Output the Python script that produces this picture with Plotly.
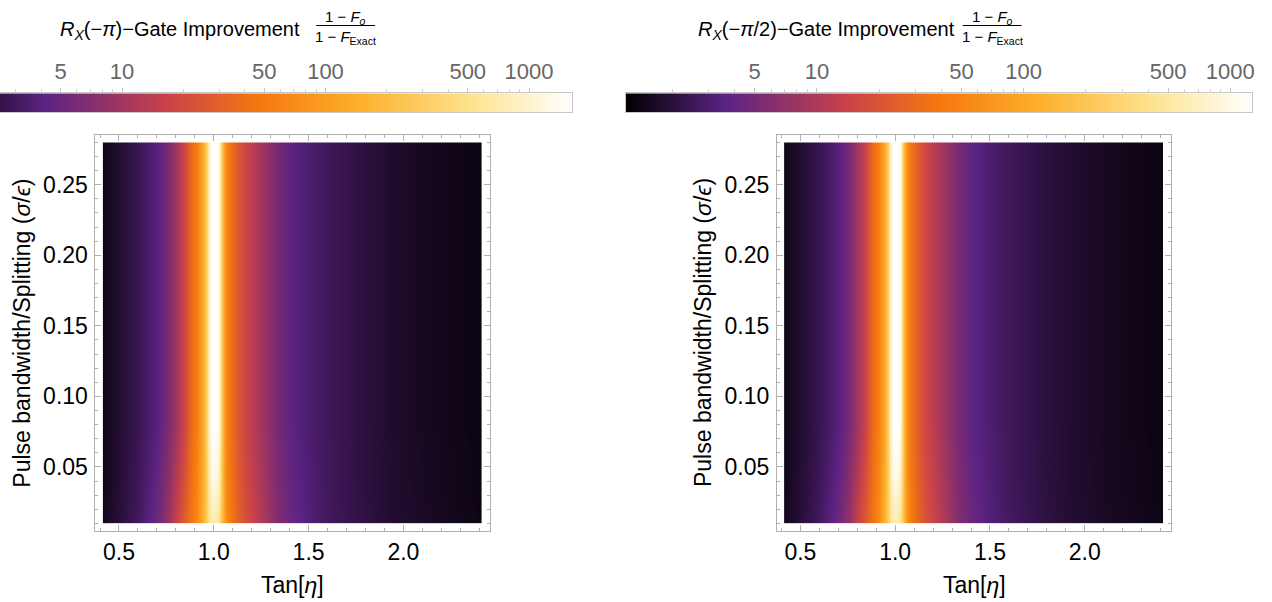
import numpy as np
import plotly.graph_objects as go

# ---------------- data ----------------
tan_eta = [0.414, 0.5, 0.6, 0.66, 0.71, 0.76, 0.8, 0.84, 0.88, 0.91,
           0.94, 0.96, 0.975, 0.99, 1.0, 1.01, 1.025, 1.04, 1.06, 1.08,
           1.12, 1.16, 1.24, 1.33, 1.41, 1.5, 1.6, 1.77, 1.94, 2.12, 2.414]
sigma_rows = [0.01, 0.04, 0.08, 0.28]

# R_X(-pi) improvement, one list per sigma row
pi_sigma_001 = [1.72, 2.2, 3.0, 4.2, 5.6, 9.1, 16, 27, 44, 67,
                145, 300, 530, 700, 750, 700, 530, 225, 96, 54,
                33, 23, 13.2, 6.9, 4.9, 3.75, 3.0, 2.5, 2.06, 1.86, 1.6]
pi_sigma_004 = [1.69, 2.14, 2.88, 3.78, 4.84, 7.7, 12.6, 21.5, 39, 60,
                131, 318, 694, 1224, 1315, 1224, 859, 248, 89, 50,
                29.5, 20.7, 11.7, 6.4, 4.5, 3.64, 2.99, 2.41, 2.02, 1.82, 1.58]
pi_sigma_008 = [1.67, 2.06, 2.74, 3.40, 4.20, 6.42, 9.8, 16.7, 35, 54,
                118, 341, 923, 1625, 1625, 1625, 1315, 276, 83, 47,
                26.6, 18.6, 10.6, 6.0, 4.2, 3.52, 2.94, 2.38, 1.99, 1.79, 1.56]
pi_sigma_028 = [1.67, 2.06, 2.74, 3.40, 4.20, 6.42, 9.8, 16.7, 35, 54,
                118, 341, 923, 1625, 1625, 1625, 1315, 276, 83, 47,
                26.6, 18.6, 10.6, 6.0, 4.2, 3.52, 2.94, 2.38, 1.99, 1.79, 1.56]

# R_X(-pi/2) improvement, one list per sigma row
half_sigma_001 = [1.51, 1.93, 2.65, 3.62, 4.79, 7.8, 13.6, 22.2, 36.3, 55,
                  119, 239, 417, 551, 591, 551, 417, 180, 78, 44.7,
                  27.4, 19.3, 11.1, 5.9, 4.17, 3.26, 2.65, 2.15, 1.80, 1.62, 1.41]
half_sigma_004 = [1.48, 1.87, 2.50, 3.26, 4.17, 6.56, 10.7, 18.0, 32.6, 49.6,
                  107, 256, 551, 964, 1033, 964, 680, 200, 72.8, 41.7,
                  24.7, 17.4, 9.96, 5.51, 3.88, 3.15, 2.59, 2.10, 1.77, 1.59, 1.38]
half_sigma_008 = [1.46, 1.80, 2.38, 2.94, 3.62, 5.51, 8.4, 14.1, 29.4, 44.7,
                  96, 274, 729, 1274, 1274, 1274, 1033, 222, 67.9, 38.9,
                  22.2, 15.7, 9.0, 5.14, 3.62, 3.04, 2.55, 2.07, 1.74, 1.57, 1.36]
half_sigma_028 = [1.46, 1.80, 2.38, 2.94, 3.62, 5.51, 8.4, 14.1, 29.4, 44.7,
                  96, 274, 729, 1274, 1274, 1274, 1033, 222, 67.9, 38.9,
                  22.2, 15.7, 9.0, 5.14, 3.62, 3.04, 2.55, 2.07, 1.74, 1.57, 1.36]

# colour-bar ranges (min, max of each legend)
cbar_pi = [1.35, 1626]
cbar_half = [1.19, 1274]
cbar_tick_values = [5, 10, 50, 100, 500, 1000]
cbar_tick_labels = ["5", "10", "50", "100", "500", "1000"]
cbar_minor_values = [2, 3, 4, 6, 7, 8, 9, 20, 30, 40, 60, 70, 80, 90,
                     200, 300, 400, 600, 700, 800, 900]

# ---------------- styling ----------------
sunset = [[0.00, "#000000"], [0.16, "#5c2384"], [0.35, "#c8414b"],
          [0.50, "#f5780f"], [0.66, "#fdb02b"], [0.84, "#fee38e"],
          [1.00, "#ffffff"]]
W, H = 1272, 602
FONT = "Liberation Sans, Arial, sans-serif"
FRAME = "#b0b0b0"


def px(x):
    return x / W


def py(y):
    return 1 - y / H


z_pi = np.log10(np.array([pi_sigma_001, pi_sigma_004, pi_sigma_008, pi_sigma_028]))
z_half = np.log10(np.array([half_sigma_001, half_sigma_004, half_sigma_008, half_sigma_028]))
lpi = np.log10(cbar_pi)
lhalf = np.log10(cbar_half)

fig = go.Figure()
common = dict(contours=dict(coloring="heatmap", showlines=False),
              line=dict(width=0), hoverinfo="skip", connectgaps=False)
fig.add_trace(go.Contour(x=tan_eta, y=sigma_rows, z=z_pi, coloraxis="coloraxis",
                         xaxis="x", yaxis="y", **common))
fig.add_trace(go.Contour(x=tan_eta, y=sigma_rows, z=z_half, coloraxis="coloraxis2",
                         xaxis="x2", yaxis="y2", **common))
# legend strips
fig.add_trace(go.Contour(x=lpi, y=[0, 1], z=[lpi, lpi], coloraxis="coloraxis",
                         xaxis="x3", yaxis="y3", **common))
fig.add_trace(go.Contour(x=lhalf, y=[0, 1], z=[lhalf, lhalf], coloraxis="coloraxis2",
                         xaxis="x4", yaxis="y4", **common))

xr = [0.376, 2.456]
yr = [0.0046, 0.2854]
ydom = [py(531), py(134.7)]
TICKSIZE = 23


def main_x(domain, anchor):
    return dict(domain=domain, anchor=anchor, range=xr, showgrid=False, zeroline=False,
                showline=True, mirror="ticks", linecolor=FRAME, linewidth=1,
                ticks="inside", ticklen=6, tickcolor=FRAME, tickwidth=1,
                tickmode="linear", tick0=0, dtick=0.5, tickformat=".1f",
                minor=dict(ticks="inside", ticklen=3, tickcolor=FRAME, dtick=0.1, tick0=0),
                tickfont=dict(size=TICKSIZE, color="#000"), ticklabelstandoff=0)


def main_y(domain, anchor):
    return dict(domain=domain, anchor=anchor, range=yr, showgrid=False, zeroline=False,
                showline=True, mirror="ticks", linecolor=FRAME, linewidth=1,
                ticks="inside", ticklen=6, tickcolor=FRAME, tickwidth=1,
                tickmode="linear", tick0=0, dtick=0.05, tickformat=".2f",
                minor=dict(ticks="inside", ticklen=3, tickcolor=FRAME, dtick=0.01, tick0=0),
                tickfont=dict(size=TICKSIZE, color="#000"), ticklabelstandoff=2)


def bar_x(domain, anchor, rng):
    return dict(domain=domain, anchor=anchor, range=rng, side="top", showgrid=False,
                zeroline=False, showline=True, mirror=True, linecolor="#c8c8c8",
                ticks="outside", ticklen=4, tickcolor="#c8c8c8",
                tickmode="array", tickvals=list(np.log10(cbar_tick_values)),
                ticktext=cbar_tick_labels,
                minor=dict(ticks="outside", ticklen=3, tickcolor="#d0d0d0",
                           tickvals=list(np.log10(cbar_minor_values))),
                tickfont=dict(size=22, color="#666666"), ticklabelstandoff=1)


def bar_y(domain, anchor):
    return dict(domain=domain, anchor=anchor, range=[0, 1], showgrid=False, zeroline=False,
                showline=True, mirror=True, linecolor="#c8c8c8", showticklabels=False,
                ticks="")


bar_dom = [py(112.3), py(93.3)]
fig.update_layout(
    width=W, height=H, margin=dict(l=0, r=0, t=0, b=0),
    paper_bgcolor="white", plot_bgcolor="white",
    font=dict(family=FONT, size=22, color="#000"),
    showlegend=False,
    coloraxis=dict(colorscale=sunset, cmin=lpi[0], cmax=lpi[1], showscale=False),
    coloraxis2=dict(colorscale=sunset, cmin=lhalf[0], cmax=lhalf[1], showscale=False),
    xaxis=main_x([px(95.7), px(491)], "y"),
    yaxis=main_y(ydom, "x"),
    xaxis2=main_x([px(778.7), px(1174)], "y2"),
    yaxis2=main_y(ydom, "x2"),
    xaxis3=bar_x([0, px(573.3)], "y3", [0.4005, 3.211]),
    yaxis3=bar_y(bar_dom, "x3"),
    xaxis4=bar_x([px(627.3), px(1255)], "y4", [lhalf[0], lhalf[1]]),
    yaxis4=bar_y(bar_dom, "x4"),
)

ann = []
shapes = []
for title, tx, fx0, fx1, plot_x0, plot_x1 in [
    ("<i>R</i><sub><i>X</i></sub>(−<i>π</i>)−Gate Improvement", 303, 317, 376, 95.7, 491),
    ("<i>R</i><sub><i>X</i></sub>(−<i>π</i>/2)−Gate Improvement", 959, 965, 1024, 778.7, 1174),
]:
    ann.append(dict(text=title, x=px(tx), y=py(31), xref="paper", yref="paper",
                    xanchor="right", yanchor="middle", showarrow=False,
                    font=dict(size=20)))
    fc = (fx0 + fx1) / 2
    ann.append(dict(text="1 − <i>F</i><sub><i>o</i></sub>", x=px(fc), y=py(17),
                    xref="paper", yref="paper", xanchor="center", yanchor="middle",
                    showarrow=False, font=dict(size=15)))
    ann.append(dict(text="1 − <i>F</i><sub>Exact</sub>", x=px(fc), y=py(37),
                    xref="paper", yref="paper", xanchor="center", yanchor="middle",
                    showarrow=False, font=dict(size=15)))
    shapes.append(dict(type="line", xref="paper", yref="paper", x0=px(fx0), x1=px(fx1),
                       y0=py(25.5), y1=py(25.5), line=dict(color="#000", width=1)))
    # axis titles
    ann.append(dict(text="Tan[<i>η</i>]", x=px((plot_x0 + plot_x1) / 2), y=py(585),
                    xref="paper", yref="paper", xanchor="center", yanchor="middle",
                    showarrow=False, font=dict(size=23)))
    ann.append(dict(text="Pulse bandwidth/Splitting (<i>σ</i>/<i>ϵ</i>)",
                    x=px(plot_x0 - 74), y=py(333), xref="paper", yref="paper",
                    xanchor="center", yanchor="middle", textangle=-90,
                    showarrow=False, font=dict(size=23)))

fig.update_layout(annotations=ann, shapes=shapes)
fig.write_html("out.html")
